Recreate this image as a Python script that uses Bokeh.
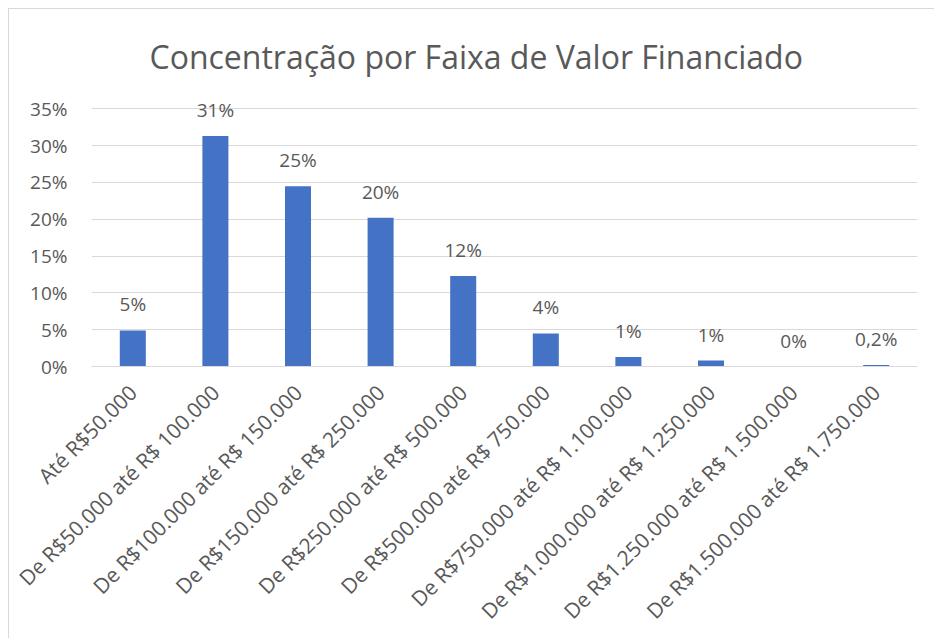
from math import pi
from bokeh.plotting import figure
from bokeh.models import ColumnDataSource, FixedTicker, Range1d
from bokeh.embed import file_html
from bokeh.resources import INLINE

categories = [
    "Até R$50.000",
    "De R$50.000 até R$ 100.000",
    "De R$100.000 até R$ 150.000",
    "De R$150.000 até R$ 250.000",
    "De R$250.000 até R$ 500.000",
    "De R$500.000 até R$ 750.000",
    "De R$750.000 até R$ 1.100.000",
    "De R$1.000.000 até R$ 1.250.000",
    "De R$1.250.000 até R$ 1.500.000",
    "De R$1.500.000 até R$ 1.750.000",
]
values = [4.9, 31.3, 24.5, 20.2, 12.3, 4.5, 1.3, 0.8, 0.0, 0.2]
value_labels = ["5%", "31%", "25%", "20%", "12%", "4%", "1%", "1%", "0%", "0,2%"]
y_ticks = [0, 5, 10, 15, 20, 25, 30, 35]
y_tick_labels = ["0%", "5%", "10%", "15%", "20%", "25%", "30%", "35%"]

FONT = "Open Sans"
TXT = "#595959"

src = ColumnDataSource(dict(cat=categories, val=values, lab=value_labels))

p = figure(
    x_range=categories,
    y_range=Range1d(0, 36),
    width=926, height=630,
    output_backend="svg", toolbar_location=None,
    min_border_left=82, min_border_right=18,
    min_border_top=92, min_border_bottom=273,
    title="Concentração por Faixa de Valor Financiado",
)
p.margin = (8, 0, 0, 8)
p.styles = {"border-left": "1px solid #d9d9d9", "border-top": "1px solid #d9d9d9"}

p.title.text_font = FONT
p.title.text_font_size = "32px"
p.title.text_font_style = "normal"
p.title.text_color = TXT
p.title.align = "left"
p.title.vertical_align = "top"
p.title.offset = 58
p.title.standoff = 44

p.vbar(x="cat", top="val", width=0.315, source=src, color="#4472C4", line_color=None)
p.text(x="cat", y="val", text="lab", source=src, text_align="center",
       text_baseline="bottom", y_offset=-13, text_font_size="19px",
       text_color=TXT, text_font={"value": FONT})

p.outline_line_color = None
p.xgrid.grid_line_color = None
p.ygrid.grid_line_color = "#d9d9d9"
p.ygrid.grid_line_width = 1
p.yaxis.ticker = FixedTicker(ticks=y_ticks)
p.yaxis.major_label_overrides = {t: l for t, l in zip(y_ticks, y_tick_labels)}
p.yaxis.axis_line_color = None
p.yaxis.major_tick_line_color = None
p.yaxis.minor_tick_line_color = None
p.yaxis.major_label_standoff = 18
p.yaxis.major_label_text_font = FONT
p.yaxis.major_label_text_font_size = "19px"
p.yaxis.major_label_text_color = TXT

p.xaxis.axis_line_color = "#d9d9d9"
p.xaxis.major_tick_line_color = None
p.xaxis.minor_tick_line_color = None
p.xaxis.major_label_orientation = pi / 4
p.xaxis.major_label_standoff = 16
p.xaxis.major_label_text_font = FONT
p.xaxis.major_label_text_font_size = "21px"
p.xaxis.major_label_text_color = TXT
p.x_range.range_padding = 0

open("out.html", "w").write(file_html(p, INLINE))
